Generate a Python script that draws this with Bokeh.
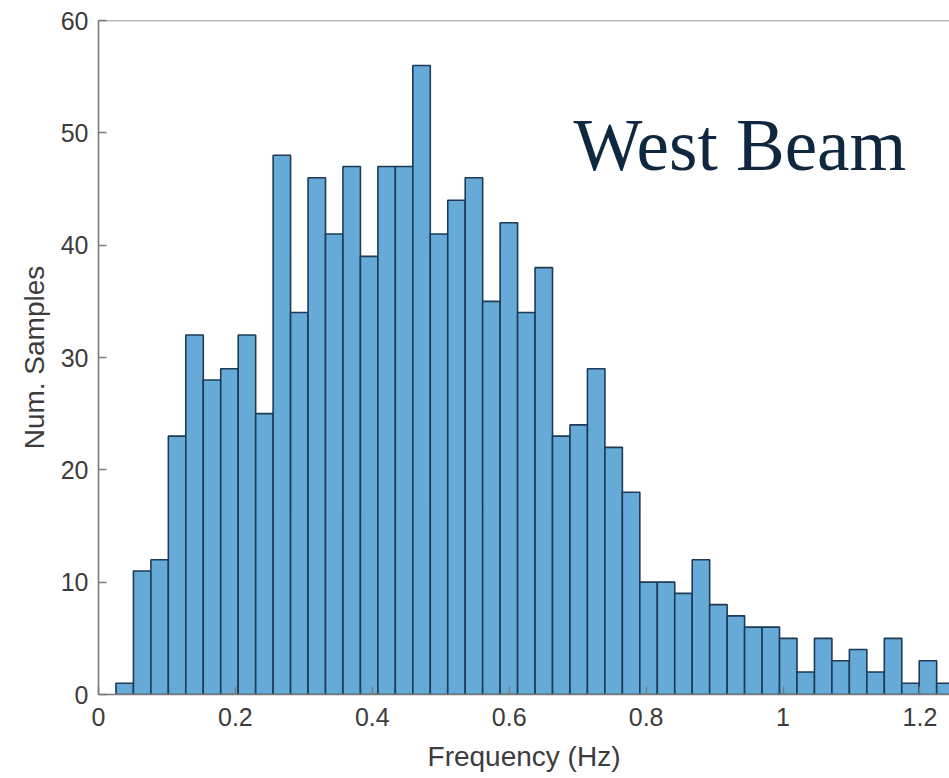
import numpy as np
from bokeh.plotting import figure
from bokeh.models import Range1d, Label, Span, FixedTicker, NumeralTickFormatter, ColumnDataSource
from bokeh.embed import file_html
from bokeh.resources import INLINE

# Histogram data
bin_width = 0.02551
first_edge = 0.02551
counts = [1, 11, 12, 23, 32, 28, 29, 32, 25, 48,
          34, 46, 41, 47, 39, 47, 47, 56, 41, 44,
          46, 35, 42, 34, 38, 23, 24, 29, 22, 18,
          10, 10, 9, 12, 8, 7, 6, 6, 5, 2,
          5, 3, 4, 2, 5, 1, 3, 1]
x_ticks = [0, 0.2, 0.4, 0.6, 0.8, 1.0, 1.2]
y_ticks = [0, 10, 20, 30, 40, 50, 60]
x_label = "Frequency (Hz)"
y_label = "Num. Samples"
title_text = "West Beam"

left = first_edge + bin_width * np.arange(len(counts))
right = left + bin_width
src = ColumnDataSource(dict(left=left, right=right, top=counts, bottom=[0] * len(counts)))

p = figure(width=949, height=778, output_backend="svg", toolbar_location=None,
           x_range=Range1d(0, 1.2432), y_range=Range1d(0, 60))
p.min_border_left = 98
p.min_border_right = 0
p.min_border_top = 20
p.min_border_bottom = 84
p.outline_line_color = None
p.background_fill_color = "white"
p.border_fill_color = "white"
p.xgrid.visible = False
p.ygrid.visible = False

p.quad(left="left", right="right", top="top", bottom="bottom", source=src,
       fill_color="#66aad7", line_color="#1e3a55", line_width=1.6)

axis_col = "#7a7a7a"
text_col = "#3c3c3c"
for ax in (p.xaxis[0], p.yaxis[0]):
    ax.axis_line_color = axis_col
    ax.axis_line_width = 1.6
    ax.major_tick_line_color = axis_col
    ax.major_tick_line_width = 1.4
    ax.major_tick_in = 8
    ax.major_tick_out = 0
    ax.minor_tick_line_color = None
    ax.major_label_text_font = "Liberation Sans"
    ax.major_label_text_font_size = "25px"
    ax.major_label_text_color = text_col
    ax.axis_label_text_font = "Liberation Sans"
    ax.axis_label_text_font_size = "28px"
    ax.axis_label_text_font_style = "normal"
    ax.axis_label_text_color = text_col

p.xaxis.ticker = FixedTicker(ticks=x_ticks)
p.yaxis.ticker = FixedTicker(ticks=y_ticks)
p.xaxis.formatter = NumeralTickFormatter(format="0.[0]")
p.yaxis.formatter = NumeralTickFormatter(format="0")
p.xaxis.axis_label = x_label
p.yaxis.axis_label = y_label
p.xaxis.major_label_standoff = 13
p.yaxis.major_label_standoff = 10
p.xaxis.axis_label_standoff = 12
p.yaxis.axis_label_standoff = 8

# top box line
p.add_layout(Span(location=60, dimension="width", line_color=axis_col, line_width=1.6))

p.add_layout(Label(x=0.694, y=48.9, text=title_text, text_font="Liberation Serif",
                   text_font_size="73px", text_color="#10283f",
                   text_baseline="alphabetic", text_align="left"))

open("out.html", "w").write(file_html(p, INLINE))
